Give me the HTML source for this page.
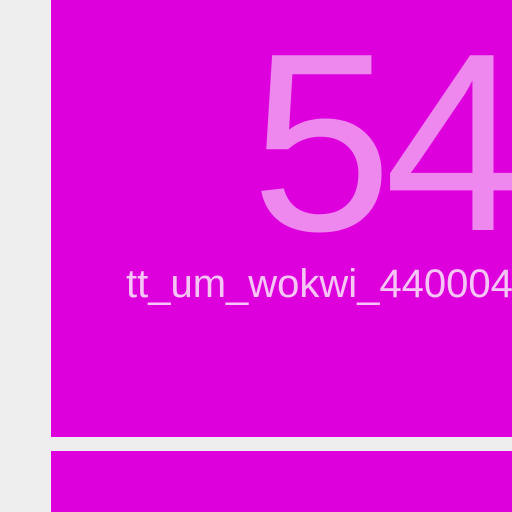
<!DOCTYPE html>
<html><head><style>
html,body{margin:0;padding:0;width:512px;height:512px;overflow:hidden;background:#eeeeee;font-family:"Liberation Sans",sans-serif}
.tile{position:absolute;background:#dd00dd;overflow:hidden}
.num{position:absolute;left:251px;top:13px;font-size:254px;line-height:258px;height:258px;color:#ee88ee;white-space:nowrap;letter-spacing:-8px}
.lbl{position:absolute;left:126px;top:261px;font-size:40px;line-height:46px;color:#f5c6f5;white-space:nowrap}
</style></head><body>
<div class="tile" style="left:51px;top:0;width:461px;height:437px"></div>
<div class="num">54</div>
<div class="lbl">tt_um_wokwi_440004</div>
<div class="tile" style="left:51px;top:451px;width:461px;height:61px"></div>
</body></html>
